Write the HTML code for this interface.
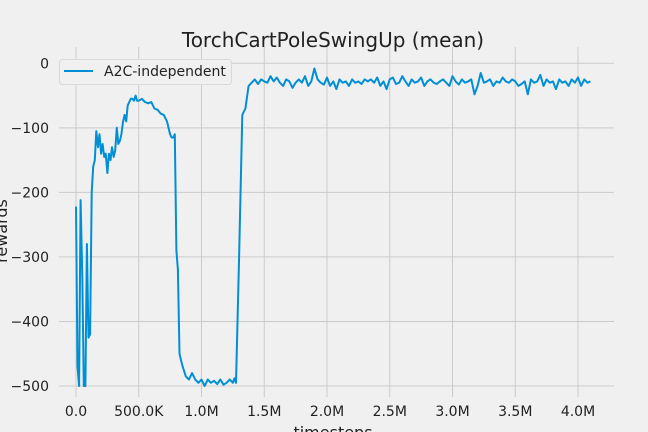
<!DOCTYPE html>
<html><head><meta charset="utf-8"><style>
body{margin:0;background:#f0f0f0;}
svg{display:block;font-family:"DejaVu Sans","Liberation Sans",sans-serif;}
</style></head><body>
<svg id="chart" width="648" height="432" viewBox="0 0 648 432">
<rect width="648" height="432" fill="#f0f0f0"/>
<g id="grid"></g>
<g id="ticks" font-size="14" fill="#222"></g>
<path id="line" fill="none" stroke="#008fd5" stroke-width="2" stroke-linejoin="round"/>
<text x="333" y="47" font-size="20" text-anchor="middle" fill="#222">TorchCartPoleSwingUp (mean)</text>
<text x="333" y="438" font-size="16" text-anchor="middle" fill="#222">timesteps</text>
<text transform="translate(7,231) rotate(-90)" font-size="16" text-anchor="middle" fill="#222">rewards</text>
<g>
<rect x="59.5" y="59.5" width="172" height="25" rx="3" fill="#f0f0f0" stroke="#d8d8d8"/>
<line x1="64" y1="71" x2="93" y2="71" stroke="#008fd5" stroke-width="2"/>
<text x="104" y="76" font-size="14" fill="#222">A2C-independent</text>
</g>
</svg>
<script>
const xTicks=[0,500000,1000000,1500000,2000000,2500000,3000000,3500000,4000000];
const xTickLabels=["0.0","500.0K","1.0M","1.5M","2.0M","2.5M","3.0M","3.5M","4.0M"];
const yTicks=[0,-100,-200,-300,-400,-500];
const yTickLabels=["0","\u2212100","\u2212200","\u2212300","\u2212400","\u2212500"];
const earlyX=[0,12,25,37,50,62,75,87,100,112,125,137,150,162,175,187,200,212,225,237,250,262,275,287,300,312,325,337,350,362,375,387,400,412,425,437,450,462,475,487,500,525,550,575,600,625,650,675,700,725,750,762,775,787,800,812,825,837,850,875,900,925,950,975,1000,1025,1050,1075,1100,1125,1150,1175,1200,1225,1250,1262,1275,1300,1325,1350,1375];
const earlyY=[-222,-470,-500,-212,-330,-500,-500,-280,-425,-420,-200,-160,-150,-105,-130,-110,-140,-125,-145,-140,-170,-140,-150,-130,-145,-135,-100,-125,-120,-110,-90,-80,-90,-65,-60,-55,-55,-58,-50,-58,-58,-55,-60,-62,-60,-70,-72,-78,-80,-90,-110,-115,-115,-110,-290,-320,-450,-460,-470,-485,-490,-480,-490,-495,-490,-500,-490,-495,-492,-497,-490,-498,-495,-490,-495,-488,-495,-300,-80,-70,-35];
const tailY=[-30,-25,-32,-25,-28,-30,-20,-28,-22,-30,-35,-25,-28,-38,-30,-25,-30,-20,-35,-28,-8,-25,-30,-33,-22,-35,-28,-40,-25,-30,-28,-35,-25,-30,-28,-32,-25,-28,-25,-30,-22,-35,-28,-40,-25,-22,-32,-30,-20,-28,-35,-25,-30,-28,-22,-35,-28,-25,-30,-32,-28,-25,-30,-35,-20,-28,-33,-25,-30,-28,-25,-48,-35,-15,-30,-28,-25,-35,-28,-30,-22,-28,-30,-25,-28,-35,-32,-28,-48,-25,-30,-28,-18,-35,-25,-30,-28,-40,-25,-30,-28,-35,-25,-30,-22,-35,-25,-30,-28];
const xs=earlyX.map(v=>v*1000).concat(tailY.map((_,i)=>1400000+i*25000));
const ys=earlyY.concat(tailY);
const L=59,R=614,T=47,B=397;
const sx=v=>76+v*(502/4000000);
const sy=v=>63.3-v*0.6454;
const ns="http://www.w3.org/2000/svg";
const grid=document.getElementById('grid'),ticks=document.getElementById('ticks');
xTicks.forEach((t,i)=>{
 const l=document.createElementNS(ns,'line');
 l.setAttribute('x1',sx(t));l.setAttribute('x2',sx(t));l.setAttribute('y1',T);l.setAttribute('y2',B);
 l.setAttribute('stroke','#cbcbcb');l.setAttribute('stroke-width','1');
 
 
 grid.appendChild(l);
 const tx=document.createElementNS(ns,'text');
 tx.setAttribute('x',sx(t));tx.setAttribute('y',416);tx.setAttribute('text-anchor','middle');
 tx.textContent=xTickLabels[i];
 
 
 ticks.appendChild(tx);
});
yTicks.forEach((t,i)=>{
 const l=document.createElementNS(ns,'line');
 l.setAttribute('x1',L);l.setAttribute('x2',R);l.setAttribute('y1',sy(t));l.setAttribute('y2',sy(t));
 l.setAttribute('stroke','#cbcbcb');l.setAttribute('stroke-width','1');
 
 
 grid.appendChild(l);
 const tx=document.createElementNS(ns,'text');
 tx.setAttribute('x',49);tx.setAttribute('y',sy(t)+5);tx.setAttribute('text-anchor','end');
 tx.textContent=yTickLabels[i];
 
 
 ticks.appendChild(tx);
});
document.getElementById('line').setAttribute('d',xs.map((x,i)=>(i?'L':'M')+sx(x).toFixed(1)+' '+sy(ys[i]).toFixed(1)).join(' '));
</script>
</body></html>
